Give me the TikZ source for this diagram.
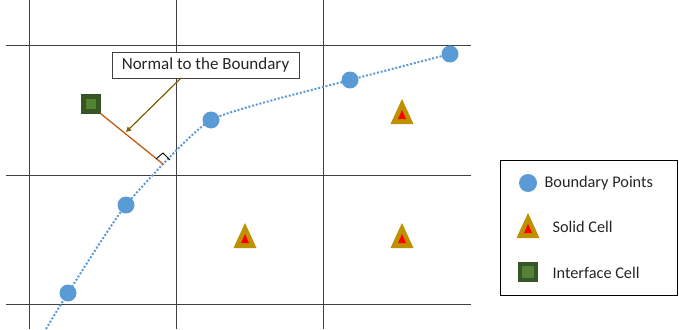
\documentclass[tikz,border=0pt]{standalone}
\usepackage{fontspec}
\setmainfont{Carlito}
\usetikzlibrary{arrows.meta,positioning}
\definecolor{ptblue}{HTML}{5B9BD5}
\definecolor{solidgold}{HTML}{BF9000}
\definecolor{ifdark}{HTML}{375623}
\definecolor{iflight}{HTML}{548235}
\definecolor{normorange}{HTML}{C55A11}
\definecolor{arrowolive}{HTML}{806000}
\definecolor{gridgray}{HTML}{404040}
\definecolor{textgray}{HTML}{262626}

\begin{document}
\begin{tikzpicture}[
    x=1pt,y=-1pt,
    gridline/.style={draw=gridgray,line width=0.9pt},
    bpoint/.style={circle,fill=ptblue,minimum size=17pt,inner sep=0pt},
    ifcell/.style={rectangle,draw=ifdark,fill=iflight,line width=4.5pt,minimum size=15pt,inner sep=0pt},
    solidcell/.pic={
      \fill[solidgold] (-11.5,12) -- (11.5,12) -- (0,-13) -- cycle;
      \fill[red] (-4,7) -- (4,7) -- (0,-2) -- cycle;},
    legtext/.style={anchor=west,text=textgray,font=\fontsize{16.3}{18}\selectfont},
    >=Latex]
  \useasboundingbox (0,0) rectangle (679,329);
  % grid
  \foreach \gx in {29,176,323}
    \draw[gridline] (\gx,0) -- (\gx,329);
  \foreach \gy in {45,175,304}
    \draw[gridline] (6,\gy) -- (471,\gy);
  % boundary curve
  \coordinate (p0) at (46,329);
  \coordinate (p1) at (68,293);
  \coordinate (p2) at (126,205);
  \coordinate (p3) at (211,120);
  \coordinate (p4) at (350,80);
  \coordinate (p5) at (450,54);
  \coordinate (foot) at (163,164);
  \draw[ptblue,line width=2pt,dash pattern=on 2pt off 1.8pt] plot[smooth,tension=0.3]
    coordinates {(p0) (p1) (p2) (p3) (p4) (p5)};
  % boundary points
  \node[bpoint] (b1) at (p1) {};
  \node[bpoint] (b2) at (p2) {};
  \node[bpoint] (b3) at (p3) {};
  \node[bpoint] (b4) at (p4) {};
  \node[bpoint] (b5) at (p5) {};
  % interface cell and normal
  \node[ifcell] (ic) at (91,104) {};
  \draw[normorange,line width=1.3pt] (ic.south east) -- (foot);
  \draw[black,line width=0.9pt] (156,159) -- (163,153) -- (170,160);
  % solid cells
  \pic at (402,112) {solidcell};
  \pic at (245,236) {solidcell};
  \pic at (402,236) {solidcell};
  % label
  \node[draw=gridgray,fill=white,line width=0.8pt,minimum width=187pt,minimum height=26pt,
        text=textgray,font=\fontsize{17}{19}\selectfont] (lbl) at (205.5,65) {Normal to the Boundary};
  \draw[arrowolive,line width=1.2pt,-{Triangle[length=5pt,width=5pt]}] (181,78) -- (126,132);
  % legend
  \node[draw=black,line width=1.2pt,minimum width=177pt,minimum height=135pt,anchor=north west] (leg) at (500,160) {};
  \node[bpoint,minimum size=18pt] (lb) at (528,183) {};
  \node[legtext] (lbt) at (541,183) {Boundary Points};
  \pic at (528,226) {solidcell};
  \node[legtext] (lst) at (549,227) {Solid Cell};
  \node[ifcell,minimum size=16pt] (li) at (528,272) {};
  \node[legtext] (lit) at (549,273) {Interface Cell};
\end{tikzpicture}
\end{document}
